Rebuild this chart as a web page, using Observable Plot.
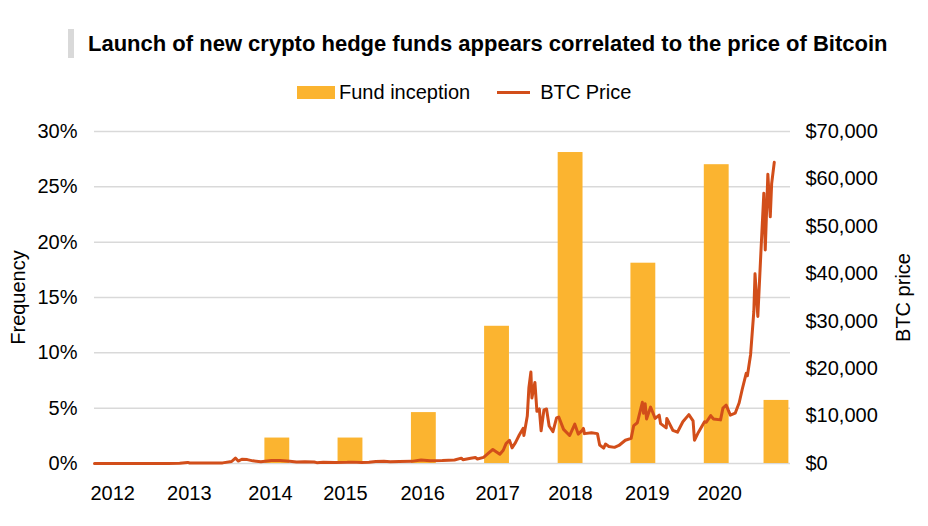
<!DOCTYPE html>
<html>
<head>
<meta charset="utf-8">
<script src="https://cdn.jsdelivr.net/npm/d3@7"></script>
<script src="https://cdn.jsdelivr.net/npm/@observablehq/plot@0.6"></script>
<style>
  html, body { margin: 0; padding: 0; background: #fff; }
  #wrap { position: relative; width: 928px; height: 526px; font-family: "Liberation Sans", Arial, sans-serif; color: #000; }
  #wrap svg { position: absolute; left: 0; top: 0; }
  .titlebar { position: absolute; left: 68px; top: 29px; width: 6px; height: 29px; background: #d9d9d9; }
  .title { position: absolute; left: 88px; top: 30px; font-size: 22px; font-weight: bold; white-space: nowrap; line-height: 28px; }
  .legend { position: absolute; top: 80px; left: 297px; font-size: 20px; white-space: nowrap; line-height: 24px; display: flex; align-items: center; }
  .sw-bar { display: inline-block; width: 38px; height: 13px; background: #FBB430; margin-right: 4px; }
  .sw-line { display: inline-block; width: 33px; height: 3px; background: #D24E1A; margin-left: 27px; margin-right: 10px; }
</style>
</head>
<body>
<div id="wrap">
  <div class="titlebar"></div>
  <div class="title">Launch of new crypto hedge funds appears correlated to the price of Bitcoin</div>
  <div class="legend"><span class="sw-bar"></span><span>Fund inception</span><span class="sw-line"></span><span>BTC Price</span></div>
</div>
<script>
// Fund inception frequency by year
const barYears = ["2014", "2015", "2016", "2017", "2018", "2019", "2020", "2021"];
const barDates = ["2014-07-01", "2015-07-01", "2016-07-01", "2017-07-01", "2018-07-03", "2019-07-01", "2020-07-01", "2021-04-25"];
const barValues = [0.023, 0.023, 0.046, 0.124, 0.281, 0.181, 0.270, 0.057];

// BTC price (USD)
const btcDates = [
  "2012-01-01","2012-03-01","2012-06-01","2012-08-15","2012-10-01","2013-01-01","2013-03-01","2013-04-10","2013-04-20","2013-06-01",
  "2013-08-01","2013-10-01","2013-11-15","2013-12-04","2013-12-18","2014-01-05","2014-02-01","2014-03-01","2014-04-10","2014-06-01",
  "2014-07-15","2014-09-01","2014-10-05","2014-11-15","2015-01-01","2015-01-14","2015-02-15","2015-04-15","2015-06-15","2015-07-10",
  "2015-08-25","2015-10-01","2015-11-04","2015-12-15","2016-01-15","2016-03-01","2016-05-01","2016-06-17","2016-08-01","2016-10-01",
  "2016-12-01","2017-01-04","2017-01-12","2017-02-20","2017-03-15","2017-03-25","2017-04-25","2017-05-25","2017-06-10","2017-07-15",
  "2017-08-01","2017-08-15","2017-09-01","2017-09-14","2017-10-01","2017-10-20","2017-11-08","2017-11-12","2017-11-29","2017-12-07",
  "2017-12-17","2017-12-22","2018-01-06","2018-01-16","2018-01-28","2018-02-06","2018-02-20","2018-03-05","2018-03-18","2018-04-06",
  "2018-04-24","2018-05-05","2018-05-29","2018-06-28","2018-07-24","2018-08-10","2018-08-30","2018-09-05","2018-09-10","2018-10-15",
  "2018-11-14","2018-11-25","2018-12-15","2018-12-24","2019-01-10","2019-02-07","2019-03-01","2019-04-02","2019-05-01","2019-05-14",
  "2019-06-01","2019-06-26","2019-07-02","2019-07-10","2019-07-17","2019-08-06","2019-08-29","2019-09-18","2019-09-25","2019-10-23",
  "2019-10-26","2019-11-25","2019-12-18","2020-01-14","2020-02-13","2020-03-05","2020-03-12","2020-04-01","2020-05-01","2020-05-10",
  "2020-06-01","2020-06-15","2020-07-20","2020-08-01","2020-08-17","2020-09-07","2020-10-01","2020-10-21","2020-11-05","2020-11-25",
  "2020-12-01","2020-12-17","2021-01-02","2021-01-08","2021-01-22","2021-02-08","2021-02-21","2021-02-28","2021-03-13","2021-03-25",
  "2021-04-01","2021-04-14"
];
const btcPrices = [
  5,5,6,11,12,13,34,230,100,120,
  100,130,420,1150,520,900,820,560,380,650,
  620,480,320,380,315,180,250,225,250,290,
  210,240,400,450,380,420,450,760,580,610,
  750,1130,800,1100,1250,940,1300,2400,2950,1950,
  2800,4200,4900,3300,4400,6000,7400,5900,10000,16000,
  19300,13800,17100,11000,11500,6900,11300,11500,7900,6700,
  9600,9800,7200,5900,8300,6200,7000,7400,6300,6500,
  6300,3900,3250,4100,3600,3400,3800,4900,5300,8000,
  8600,12900,10600,12600,9400,11900,9500,10200,8400,7500,
  9500,7000,6600,8800,10300,9000,4900,6600,8800,8700,
  10100,9400,9200,11700,12300,10200,10600,12800,15600,19000,
  18500,23000,32000,40000,31000,46000,57000,45000,61000,52000,
  59000,63500
];

// Axis ticks
const freqTicks = [0, 0.05, 0.10, 0.15, 0.20, 0.25, 0.30];
const priceTicks = [0, 10000, 20000, 30000, 40000, 50000, 60000, 70000];
const xLabels = ["2012", "2013", "2014", "2015", "2016", "2017", "2018", "2019", "2020"];
const xLabelDates = ["2012-04-01", "2013-04-18", "2014-05-28", "2015-06-06", "2016-06-25", "2017-07-04", "2018-07-02", "2019-07-21", "2020-07-16"];

const priceMax = 70000, freqMax = 0.30;
const k = freqMax / priceMax;
const halfBar = 62 * 24 * 3600 * 1000;

const bars = barYears.map((y, i) => ({year: y, date: new Date(barDates[i]), v: barValues[i]}));
const btc = btcDates.map((d, i) => ({date: new Date(d), price: btcPrices[i]}));
const xTicks = xLabelDates.map(d => new Date(d));

const chart = Plot.plot({
  width: 928,
  height: 526,
  marginLeft: 94,
  marginRight: 138,
  marginTop: 131,
  marginBottom: 63,
  style: {fontFamily: "'Liberation Sans', Arial, sans-serif", fontSize: "20px", color: "#000", background: "transparent", overflow: "visible"},
  x: {type: "utc", domain: [new Date("2012-01-01"), new Date("2021-07-04")]},
  y: {domain: [0, freqMax]},
  marks: [
    Plot.gridY(freqTicks, {stroke: "#d9d9d9", strokeOpacity: 1, strokeWidth: 1.5}),
    Plot.rectY(bars, {x1: d => new Date(+d.date - halfBar), x2: d => new Date(+d.date + halfBar), y: "v", fill: "#FBB430"}),
    Plot.line(btc, {x: "date", y: d => d.price * k, stroke: "#D24E1A", strokeWidth: 3, strokeLinejoin: "round"}),
    Plot.axisY(freqTicks, {anchor: "left", tickSize: 0, tickPadding: 17, tickFormat: d => Math.round(d * 100) + "%", label: null, fontSize: 20}),
    Plot.axisY(priceTicks.map(v => v * k), {anchor: "right", tickSize: 0, tickPadding: 15, tickFormat: d => "$" + d3.format(",")(Math.round(d / k)), label: null, fontSize: 20}),
    Plot.axisX(xTicks, {tickSize: 0, tickPadding: 22, tickFormat: d => String(d.getUTCFullYear()), label: null, fontSize: 20}),
    Plot.text(["Frequency"], {frameAnchor: "left", dx: -76, rotate: -90, textAnchor: "middle", fontSize: 20}),
    Plot.text(["BTC price"], {frameAnchor: "right", dx: 113, rotate: -90, textAnchor: "middle", fontSize: 20})
  ]
});
document.getElementById("wrap").prepend(chart);
</script>
</body>
</html>
